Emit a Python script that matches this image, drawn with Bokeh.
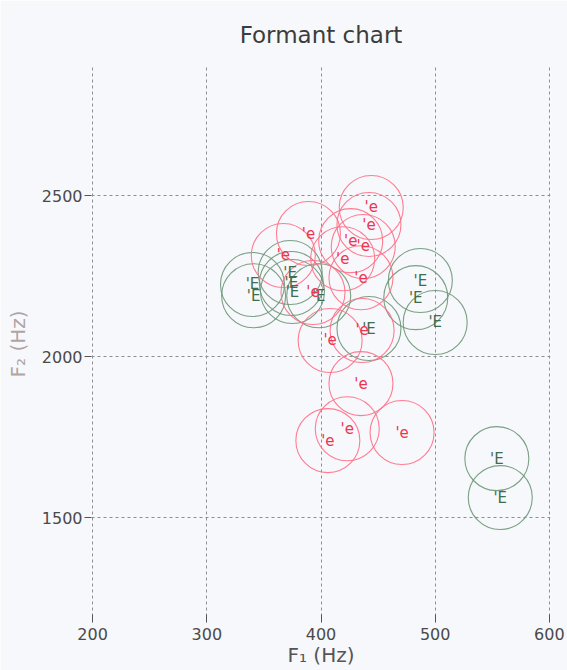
from bokeh.plotting import figure
from bokeh.models import FixedTicker, Range1d, ColumnDataSource
from bokeh.core.properties import value
from bokeh.embed import file_html
from bokeh.resources import INLINE

# Vowel 'e (red) formant measurements
e_label = ["'e"] * 15
e_f1 = [444, 442, 389, 426, 437, 367, 419, 435, 393, 436, 408, 435, 423, 406, 471]
e_f2 = [2463, 2410, 2382, 2360, 2342, 2314, 2304, 2245, 2199, 2081, 2050, 1916, 1776, 1739, 1764]

# Vowel 'E (green) formant measurements
E_label = ["'E"] * 12
E_f1 = [340, 341, 373, 374, 375, 398, 442, 487, 483, 500, 554, 557]
E_f2 = [2224, 2189, 2261, 2227, 2202, 2189, 2087, 2236, 2183, 2106, 1683, 1562]

x_ticks = [200, 300, 400, 500, 600]
y_ticks = [1500, 2000, 2500]
title_text = "Formant chart"

FONT = "DejaVu Sans"
BG = "#f7f8fc"

p = figure(width=567, height=670, output_backend="svg", toolbar_location=None,
           x_range=Range1d(199, 601), y_range=Range1d(1174, 2904),
           min_border_left=91, min_border_right=17, min_border_top=65, min_border_bottom=48,
           background_fill_color=BG, border_fill_color=BG, outline_line_color=None)

p.title.text = title_text
p.title.align = "center"
p.title.text_font = FONT
p.title.text_font_size = "23px"
p.title.text_font_style = "normal"
p.title.text_color = "#3c3c3c"
p.title.standoff = 36

src_e = ColumnDataSource(dict(x=e_f1, y=e_f2, t=e_label))
src_E = ColumnDataSource(dict(x=E_f1, y=E_f2, t=E_label))

p.scatter("x", "y", source=src_E, marker="circle", size=64, fill_color=None,
          line_color="#6d9675", line_width=1.1, line_alpha=0.9)
p.scatter("x", "y", source=src_e, marker="circle", size=64, fill_color=None,
          line_color="#ff6f86", line_width=1.1, line_alpha=0.9)
p.text("x", "y", text="t", source=src_E, text_align="center", text_baseline="middle",
       text_font=value(FONT), text_font_size="15px", text_color="#3f6e4c")
p.text("x", "y", text="t", source=src_e, text_align="center", text_baseline="middle",
       text_font=value(FONT), text_font_size="15px", text_color="#ee3550")

for ax in (p.xaxis[0], p.yaxis[0]):
    ax.axis_line_color = None
    ax.minor_tick_line_color = None
    ax.major_label_text_font = FONT
    ax.major_label_text_font_size = "16px"
    ax.major_label_text_color = "#4a4a4a"
    ax.major_tick_line_color = "#555555"
    ax.axis_label_text_font = FONT
    ax.axis_label_text_font_style = "normal"
    ax.axis_label_text_font_size = "20px"

p.xaxis.ticker = FixedTicker(ticks=x_ticks)
p.yaxis.ticker = FixedTicker(ticks=y_ticks)

p.xaxis.major_tick_in = 8
p.xaxis.major_tick_out = 0
p.xaxis.major_label_standoff = 5
p.xaxis.axis_label = "F\u2081 (Hz)"
p.xaxis.axis_label_text_color = "#555555"
p.xaxis.axis_label_standoff = 0

p.yaxis.major_tick_in = 0
p.yaxis.major_tick_out = 7
p.yaxis.major_label_standoff = 2
p.yaxis.axis_label = "F\u2082 (Hz)"
p.yaxis.axis_label_text_color = "#b0a4a4"
p.yaxis.axis_label_standoff = 9

p.grid.grid_line_color = "#8e8e8e"
p.grid.grid_line_dash = "3 3"
p.grid.grid_line_width = 1
p.xgrid.ticker = FixedTicker(ticks=x_ticks)
p.ygrid.ticker = FixedTicker(ticks=y_ticks)

open("out.html", "w").write(file_html(p, INLINE))
